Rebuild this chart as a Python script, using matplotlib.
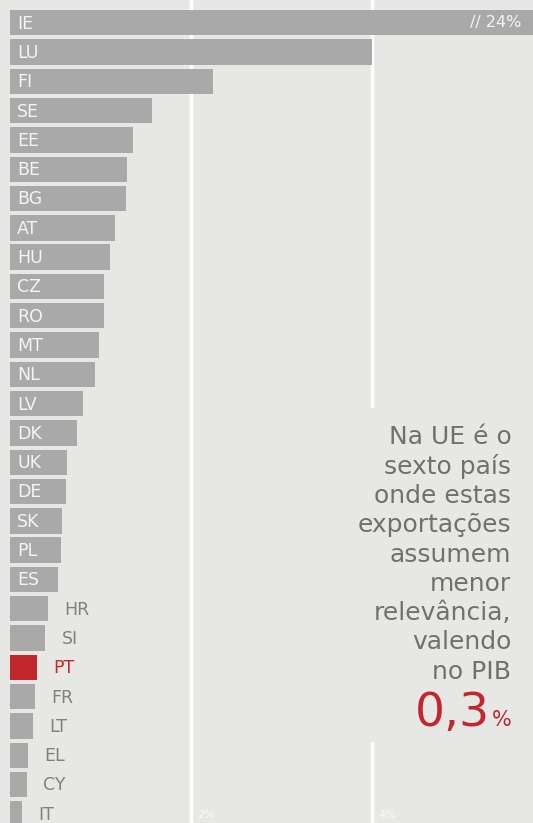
import numpy as np
import matplotlib.pyplot as plt
from matplotlib.patches import Rectangle

# exports as % of GDP, EU member states (IE is off the scale)
countries = ['IE', 'LU', 'FI', 'SE', 'EE', 'BE', 'BG', 'AT', 'HU', 'CZ',
             'RO', 'MT', 'NL', 'LV', 'DK', 'UK', 'DE', 'SK', 'PL', 'ES',
             'HR', 'SI', 'PT', 'FR', 'LT', 'EL', 'CY', 'IT']
values = [24.0, 4.0, 2.24, 1.57, 1.36, 1.29, 1.28, 1.16, 1.10, 1.04,
          1.04, 0.98, 0.94, 0.81, 0.74, 0.63, 0.62, 0.57, 0.56, 0.53,
          0.42, 0.39, 0.30, 0.28, 0.25, 0.20, 0.19, 0.13]
grid_ticks = [2, 4]
highlight = 'PT'
n_inside = 20   # first 20 labels sit inside their bars

bg = '#e7e7e5'
bar_col = '#a9a9a9'
red = '#c1272d'
txt_col = '#707070'

W, H = 533, 823
fig = plt.figure(figsize=(W / 100, H / 100), dpi=100)
fig.patch.set_facecolor(bg)
ax = fig.add_axes([0, 0, 1, 1])
ax.set_facecolor(bg)

px_per_pct = 90.5
x0 = 10
pitch = 29.3
ax.set_xlim(-x0 / px_per_pct, (W - x0) / px_per_pct)
ax.set_ylim((H - 22.75) / pitch, -22.75 / pitch)
ax.axis('off')

y = np.arange(len(countries))
colors = [red if c == highlight else bar_col for c in countries]
ax.barh(y, values, height=0.87, color=colors, zorder=2)

for g in grid_ticks:
    ax.axvline(g, color='white', lw=2.4, zorder=1)
    ax.text(g + 0.07, 27.05, f'{g}%', color='white', alpha=0.8,
            fontsize=8, va='center', ha='left', zorder=3)

for i, (c, v) in enumerate(zip(countries, values)):
    if i < n_inside:
        ax.text(0.08, i + 0.03, c, color='#f4f4f4', fontsize=12.5,
                va='center', ha='left', zorder=3)
    else:
        col = red if c == highlight else '#808080'
        ax.text(v + 0.18, i + 0.03, c, color=col, fontsize=12.5,
                va='center', ha='left', zorder=3)

# IE runs off the chart
ax.text(5.65, 0, f'// {values[0]:.0f}%', color='#f4f4f4', fontsize=11.5,
        va='center', ha='right', zorder=3)

# text box hides the 4% line behind it
ax.add_patch(Rectangle((3.3, 13.15), 2.7, 11.4, facecolor=bg,
                       edgecolor='none', zorder=1.5))

note = ['Na UE é o', 'sexto país', 'onde estas', 'exportações', 'assumem',
        'menor', 'relevância,', 'valendo', 'no PIB']
for k, line in enumerate(note):
    ax.text(5.54, 14.15 + k, line, color=txt_col, fontsize=18,
            va='center', ha='right', zorder=3)

pt_val = values[countries.index(highlight)]
ax.text(5.54, 24.0, '%', color=red, fontsize=15, va='baseline',
        ha='right', zorder=3)
ax.text(5.30, 24.0, f'{pt_val:.1f}'.replace('.', ','), color=red,
        fontsize=34, va='baseline', ha='right', zorder=3)

fig.savefig('out.png', dpi=100, facecolor=bg)
